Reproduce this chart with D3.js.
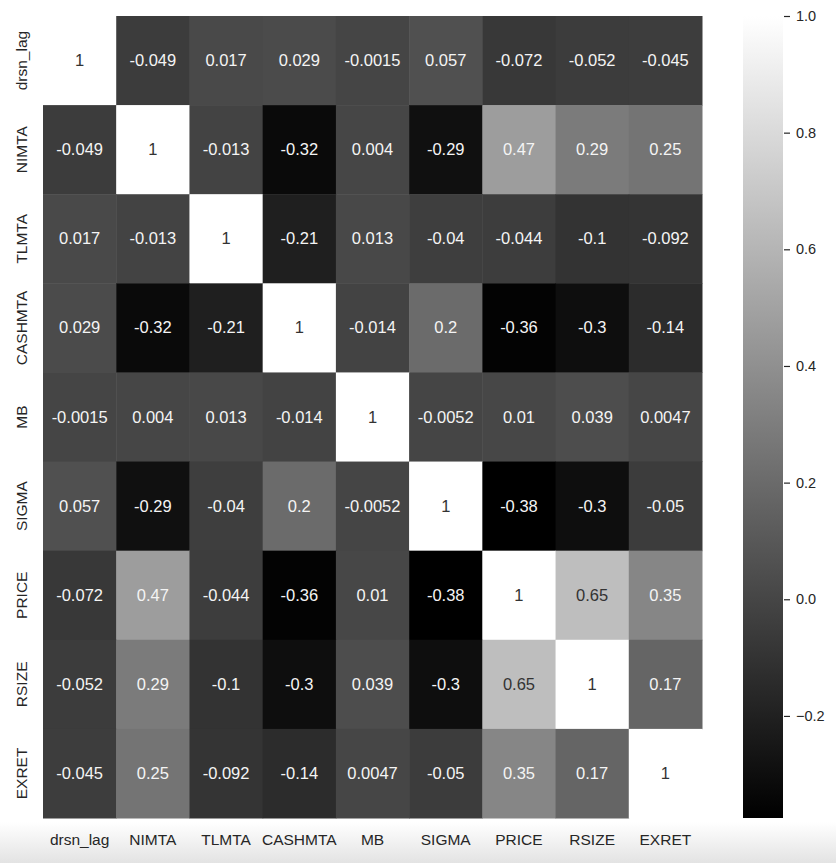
<!DOCTYPE html>
<html>
<head>
<meta charset="utf-8">
<script src="https://cdn.jsdelivr.net/npm/d3@7/dist/d3.min.js"></script>
<style>
  html, body { margin: 0; padding: 0; background: #fff; }
  svg { display: block; }
  text { font-family: "Liberation Sans", Arial, sans-serif; }
</style>
</head>
<body>
<div id="chart"></div>
<script>
// ---- data ----
const categories = ["drsn_lag", "NIMTA", "TLMTA", "CASHMTA", "MB", "SIGMA", "PRICE", "RSIZE", "EXRET"];
const row_drsn_lag = [1, -0.049, 0.017, 0.029, -0.0015, 0.057, -0.072, -0.052, -0.045];
const row_NIMTA    = [-0.049, 1, -0.013, -0.32, 0.004, -0.29, 0.47, 0.29, 0.25];
const row_TLMTA    = [0.017, -0.013, 1, -0.21, 0.013, -0.04, -0.044, -0.1, -0.092];
const row_CASHMTA  = [0.029, -0.32, -0.21, 1, -0.014, 0.2, -0.36, -0.3, -0.14];
const row_MB       = [-0.0015, 0.004, 0.013, -0.014, 1, -0.0052, 0.01, 0.039, 0.0047];
const row_SIGMA    = [0.057, -0.29, -0.04, 0.2, -0.0052, 1, -0.38, -0.3, -0.05];
const row_PRICE    = [-0.072, 0.47, -0.044, -0.36, 0.01, -0.38, 1, 0.65, 0.35];
const row_RSIZE    = [-0.052, 0.29, -0.1, -0.3, 0.039, -0.3, 0.65, 1, 0.17];
const row_EXRET    = [-0.045, 0.25, -0.092, -0.14, 0.0047, -0.05, 0.35, 0.17, 1];
const matrix = [row_drsn_lag, row_NIMTA, row_TLMTA, row_CASHMTA, row_MB, row_SIGMA, row_PRICE, row_RSIZE, row_EXRET];
const colorDomain = [-0.375, 1.0];           // colour bar range
const colorbarTicks = [-0.2, 0.0, 0.2, 0.4, 0.6, 0.8, 1.0];

// ---- layout ----
const W = 836, H = 863;
const hm = { left: 43, top: 16, right: 702, bottom: 818 };
const cb = { left: 743, right: 783, top: 16, bottom: 818 };

const svg = d3.select("#chart").append("svg").attr("width", W).attr("height", H);

// page shadow at the bottom
const defs = svg.append("defs");
const sh = defs.append("linearGradient").attr("id", "shadow").attr("x1", 0).attr("y1", 0).attr("x2", 0).attr("y2", 1);
sh.append("stop").attr("offset", "0%").attr("stop-color", "#ffffff");
sh.append("stop").attr("offset", "100%").attr("stop-color", "#e3e3e3");
svg.append("rect").attr("x", 0).attr("y", 822).attr("width", W).attr("height", H - 822).attr("fill", "url(#shadow)");

const x = d3.scaleBand().domain(categories).range([hm.left, hm.right]);
const y = d3.scaleBand().domain(categories).range([hm.top, hm.bottom]);
const color = d3.scaleLinear().domain(colorDomain).range(["#000000", "#ffffff"]).clamp(true);

const cells = [];
matrix.forEach((row, i) => row.forEach((v, j) => cells.push({ r: categories[i], c: categories[j], v })));

svg.append("g").selectAll("rect").data(cells).join("rect")
  .attr("x", d => x(d.c))
  .attr("y", d => y(d.r))
  .attr("width", x.bandwidth() + 0.5)
  .attr("height", y.bandwidth() + 0.5)
  .attr("fill", d => color(d.v));

function lum(c) {
  const rgb = d3.rgb(c);
  const f = u => { u /= 255; return u <= 0.03928 ? u / 12.92 : Math.pow((u + 0.055) / 1.055, 2.4); };
  return 0.2126 * f(rgb.r) + 0.7152 * f(rgb.g) + 0.0722 * f(rgb.b);
}
const fmt = v => String(v);

svg.append("g").selectAll("text").data(cells).join("text")
  .attr("x", d => x(d.c) + x.bandwidth() / 2)
  .attr("y", d => y(d.r) + y.bandwidth() / 2)
  .attr("dy", "0.34em")
  .attr("text-anchor", "middle")
  .attr("font-size", "16.5px")
  .attr("fill", d => lum(color(d.v)) > 0.408 ? "#333333" : "#f4f4f4")
  .text(d => fmt(d.v));

// x labels
svg.append("g").selectAll("text").data(categories).join("text")
  .attr("x", d => x(d) + x.bandwidth() / 2)
  .attr("y", 845)
  .attr("text-anchor", "middle")
  .attr("font-size", "15.5px")
  .attr("fill", "#262626")
  .text(d => d);

// y labels
svg.append("g").selectAll("text").data(categories).join("text")
  .attr("transform", d => `translate(26.5,${y(d) + y.bandwidth() / 2}) rotate(-90)`)
  .attr("text-anchor", "middle")
  .attr("font-size", "15.5px")
  .attr("fill", "#262626")
  .text(d => d);

// colour bar
const cy = d3.scaleLinear().domain(colorDomain).range([cb.bottom, cb.top]);
const grad = defs.append("linearGradient").attr("id", "cbgrad").attr("x1", 0).attr("y1", 1).attr("x2", 0).attr("y2", 0);
grad.append("stop").attr("offset", "0%").attr("stop-color", color(colorDomain[0]));
grad.append("stop").attr("offset", "100%").attr("stop-color", color(colorDomain[1]));
svg.append("rect").attr("x", cb.left).attr("y", cb.top).attr("width", cb.right - cb.left).attr("height", cb.bottom - cb.top)
  .attr("fill", "url(#cbgrad)");

const axis = d3.axisRight(cy).tickValues(colorbarTicks).tickSize(6).tickPadding(6)
  .tickFormat(d => d3.format(".1f")(d).replace("-", "\u2212"));
const ag = svg.append("g").attr("transform", `translate(${cb.right + 1},0)`).call(axis);
ag.select(".domain").remove();
ag.selectAll(".tick line").attr("stroke", "#262626").attr("stroke-width", 1.2);
ag.selectAll(".tick text").attr("font-size", "14.5px").attr("fill", "#262626")
  .attr("font-family", "'Liberation Sans', Arial, sans-serif");
</script>
</body>
</html>
